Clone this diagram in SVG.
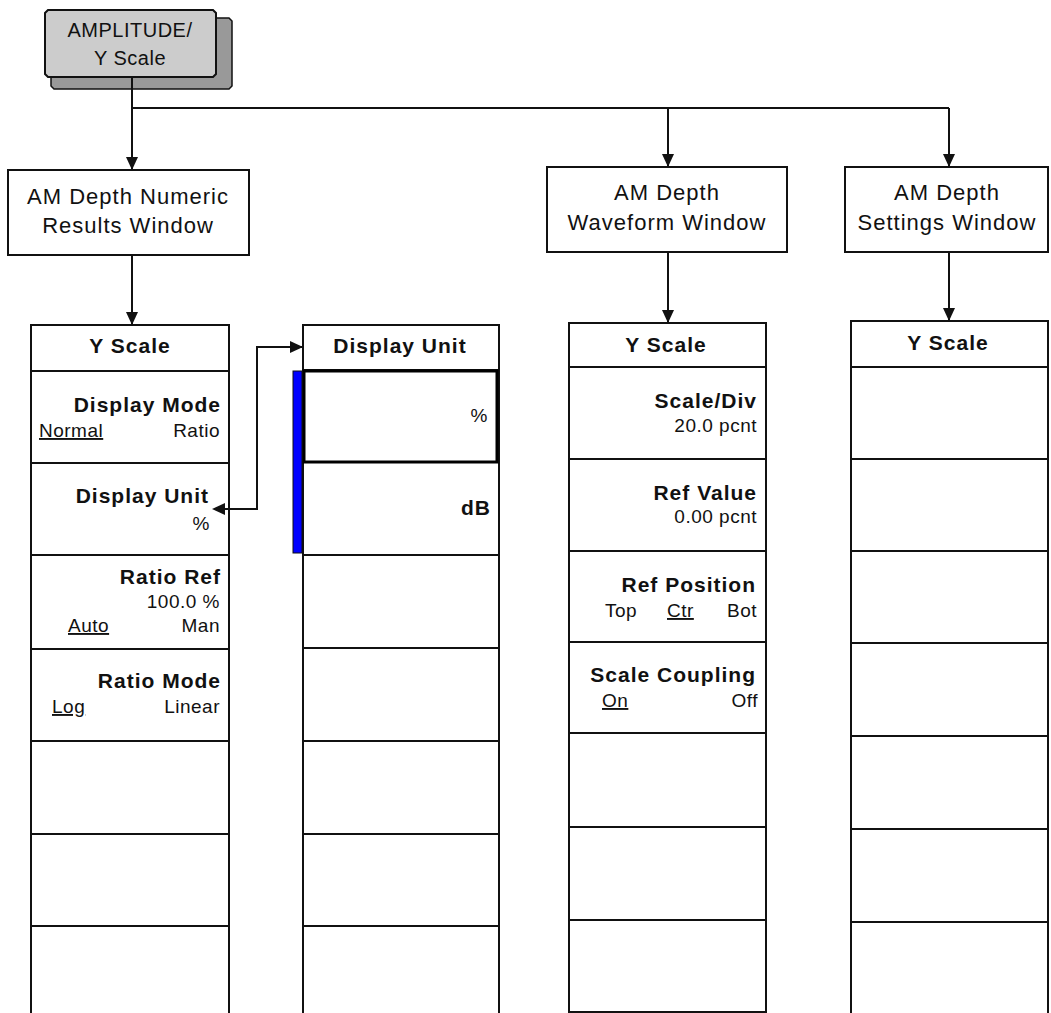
<svg xmlns="http://www.w3.org/2000/svg" width="1051" height="1013" viewBox="0 0 1051 1013">
<style>
.box{fill:#fff;stroke:#111;stroke-width:2}
.ln{stroke:#111;stroke-width:2;fill:none}
.con{stroke:#111;stroke-width:2;fill:none}
.head{fill:#111}
.win{font-family:"Liberation Sans",Arial,sans-serif;font-size:22px;letter-spacing:1px;text-anchor:middle;fill:#111}
.hdr{font-family:"Liberation Sans",Arial,sans-serif;font-size:21px;font-weight:bold;letter-spacing:1px;text-anchor:middle;fill:#111}
.b{font-family:"Liberation Sans",Arial,sans-serif;font-size:21px;font-weight:bold;letter-spacing:1px;text-anchor:end;fill:#111}
.s{font-family:"Liberation Sans",Arial,sans-serif;font-size:19px;letter-spacing:0.5px;fill:#111}
.r{text-anchor:end}
.u{text-decoration:underline}
.btn{font-family:"Liberation Sans",Arial,sans-serif;font-size:20px;letter-spacing:0.5px;text-anchor:middle;fill:#111}
</style>
<defs>
<marker id="ah" markerUnits="userSpaceOnUse" markerWidth="14" markerHeight="12" refX="13" refY="6" orient="auto">
<path d="M0,0 L13,6 L0,12 z" fill="#111"/>
</marker>
</defs>
<rect width="1051" height="1013" fill="#fff"/>

<g id="amplitude-button">
<polygon points="54,18 229,18 232,21 232,86 229,89 54,89 51,86 51,21" fill="#999" stroke="#111" stroke-width="1.5"/>
<polygon points="48,10 213,10 216,13 216,74 213,77 48,77 45,74 45,13" fill="#ccc" stroke="#111" stroke-width="2"/>
<text class="btn" x="130" y="37">AMPLITUDE/</text>
<text class="btn" x="130" y="65">Y Scale</text>
</g>

<g id="numeric-window">
<rect class="box" x="8" y="170" width="241" height="85"/>
<text class="win" x="128" y="204">AM Depth Numeric</text>
<text class="win" x="128" y="233">Results Window</text>
</g>

<g id="waveform-window">
<rect class="box" x="547" y="167" width="240" height="85"/>
<text class="win" x="667" y="200">AM Depth</text>
<text class="win" x="667" y="230">Waveform Window</text>
</g>

<g id="settings-window">
<rect class="box" x="845" y="167" width="203" height="85"/>
<text class="win" x="947" y="200">AM Depth</text>
<text class="win" x="947" y="230">Settings Window</text>
</g>

<g id="numeric-yscale-menu">
<rect class="box" x="31" y="325" width="198" height="700"/>
<path class="ln" d="M31,371 H229 M31,463 H229 M31,555 H229 M31,649 H229 M31,741 H229 M31,834 H229 M31,926 H229"/>
<text class="hdr" x="130" y="353">Y Scale</text>
<text class="b" x="221" y="412">Display Mode</text>
<text class="s u" x="39" y="437">Normal</text>
<text class="s r" x="220" y="437">Ratio</text>
<text class="b" x="209" y="503">Display Unit</text>
<text class="s r" x="210" y="530">%</text>
<text class="b" x="221" y="584">Ratio Ref</text>
<text class="s r" x="220" y="608">100.0 %</text>
<text class="s u" x="68" y="632">Auto</text>
<text class="s r" x="220" y="632">Man</text>
<text class="b" x="221" y="688">Ratio Mode</text>
<text class="s u" x="52" y="713">Log</text>
<text class="s r" x="220" y="713">Linear</text>
</g>

<g id="display-unit-menu">
<rect class="box" x="303" y="325" width="196" height="700"/>
<path class="ln" d="M303,370 H499 M303,555 H499 M303,648 H499 M303,741 H499 M303,834 H499 M303,926 H499"/>
<rect x="304" y="371" width="193" height="91" fill="none" stroke="#000" stroke-width="3"/>
<rect x="293" y="371" width="9" height="182" fill="#0000ff" stroke="#111" stroke-width="1"/>
<text class="hdr" x="400" y="353">Display Unit</text>
<text class="s r" x="488" y="422">%</text>
<text class="b" x="491" y="515">dB</text>
</g>

<g id="waveform-yscale-menu">
<rect class="box" x="569" y="323" width="197" height="689"/>
<path class="ln" d="M569,367 H766 M569,459 H766 M569,551 H766 M569,642 H766 M569,733 H766 M569,827 H766 M569,920 H766"/>
<text class="hdr" x="666" y="352">Y Scale</text>
<text class="b" x="757" y="408">Scale/Div</text>
<text class="s r" x="757" y="432">20.0 pcnt</text>
<text class="b" x="757" y="500">Ref Value</text>
<text class="s r" x="757" y="523">0.00 pcnt</text>
<text class="b" x="756" y="592">Ref Position</text>
<text class="s" x="605" y="617">Top</text>
<text class="s u" x="667" y="617">Ctr</text>
<text class="s r" x="757" y="617">Bot</text>
<text class="b" x="756" y="682">Scale Coupling</text>
<text class="s u" x="602" y="707">On</text>
<text class="s r" x="758" y="707">Off</text>
</g>

<g id="settings-yscale-menu">
<rect class="box" x="851" y="321" width="197" height="700"/>
<path class="ln" d="M851,367 H1048 M851,459 H1048 M851,551 H1048 M851,643 H1048 M851,736 H1048 M851,829 H1048 M851,922 H1048"/>
<text class="hdr" x="948" y="350">Y Scale</text>
</g>

<g id="connectors">
<path class="con" d="M132,77 V170" marker-end="url(#ah)"/>
<path class="con" d="M132,108 H949"/>
<path class="con" d="M668,108 V167" marker-end="url(#ah)"/>
<path class="con" d="M949,108 V167" marker-end="url(#ah)"/>
<path class="con" d="M132,255 V325" marker-end="url(#ah)"/>
<path class="con" d="M668,252 V323" marker-end="url(#ah)"/>
<path class="con" d="M949,252 V321" marker-end="url(#ah)"/>
<path class="con" d="M222,509 H257 V347 H303" marker-end="url(#ah)"/>
<polygon class="head" points="212,509 225,503 225,515"/>
</g>
</svg>
